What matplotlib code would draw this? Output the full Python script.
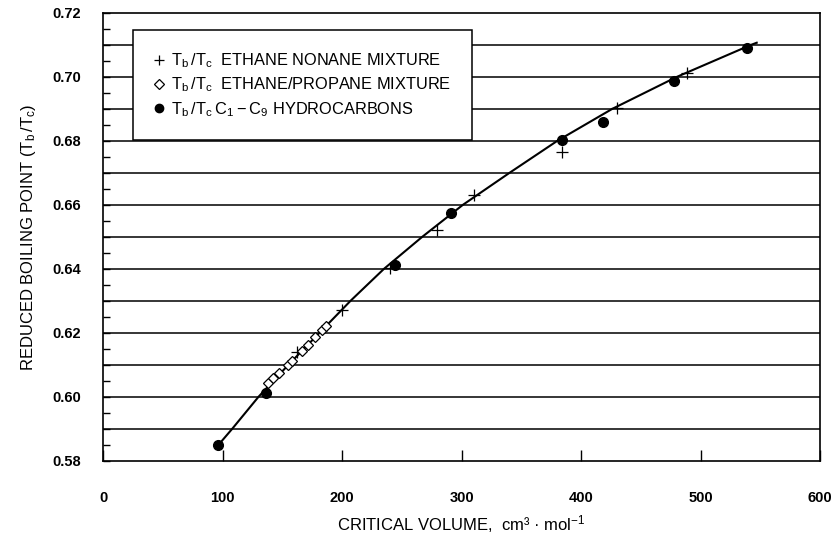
import matplotlib
matplotlib.use("Agg")
import matplotlib.pyplot as plt
from matplotlib.lines import Line2D
from matplotlib.ticker import MultipleLocator

plt.rcParams['font.family'] = ['Liberation Sans', 'DejaVu Sans']

# Ethane / nonane mixture, Tb/Tc
nonane_vc = [162, 200, 240, 279, 310, 384, 430, 489]
nonane_tr = [0.6141, 0.6271, 0.6402, 0.6521, 0.6631, 0.6766, 0.6904, 0.7013]

# Ethane / propane mixture, Tb/Tc
propane_vc = [138.3, 142.3, 147.0, 154.3, 157.6, 166.5, 171.5, 177.2, 182.8, 186.4]
propane_tr = [0.6042, 0.6058, 0.6073, 0.6099, 0.6112, 0.6144, 0.6162, 0.6186, 0.6209, 0.6221]

# C1 - C9 hydrocarbons, Tb/Tc
hc_vc = [96, 136, 244, 291, 384, 418, 478, 539]
hc_tr = [0.5849, 0.6011, 0.6412, 0.6574, 0.6803, 0.6858, 0.6987, 0.7091]

# Correlation curve
curve_vc = [97, 108, 130, 155, 181, 207, 235, 267, 301, 340, 380, 426, 480, 542, 547]
curve_tr = [0.5852, 0.59, 0.60, 0.61, 0.62, 0.63, 0.64, 0.65, 0.66, 0.67, 0.68, 0.69, 0.70, 0.71, 0.7107]

x_ticks = [0, 100, 200, 300, 400, 500, 600]
y_ticks = [0.58, 0.60, 0.62, 0.64, 0.66, 0.68, 0.70, 0.72]

fig = plt.figure(figsize=(8.39, 5.39), dpi=100)
ax = fig.add_axes([0.1231, 0.1453, 0.8543, 0.8306])

# horizontal rules every 0.01
for y in [0.59 + 0.01 * i for i in range(13)]:
    ax.axhline(y, color='black', lw=1.1, zorder=1)

ax.plot(curve_vc, curve_tr, color='black', lw=1.5, zorder=3)
ax.plot(nonane_vc, nonane_tr, ls='none', marker='+', ms=8, mew=0.9, color='black', zorder=4)
ax.plot(propane_vc, propane_tr, ls='none', marker='D', ms=5.5, mew=0.9,
        mfc='white', mec='black', zorder=4)
ax.plot(hc_vc, hc_tr, ls='none', marker='o', ms=7, color='black', zorder=5)

ax.set_xlim(0, 600)
ax.set_ylim(0.58, 0.72)
ax.set_xticks(x_ticks)
ax.set_yticks(y_ticks)
ax.set_yticklabels([f"{v:.2f}" for v in y_ticks])
ax.yaxis.set_minor_locator(MultipleLocator(0.005))
ax.tick_params(axis='x', which='major', direction='in', length=8, width=1,
               pad=22, labelsize=10.5)
ax.tick_params(axis='y', which='major', direction='in', length=5, width=1,
               pad=16, labelsize=10.5)
ax.tick_params(axis='y', which='minor', direction='in', length=5, width=1)
for lab in ax.get_xticklabels() + ax.get_yticklabels():
    lab.set_fontweight('bold')
for s in ax.spines.values():
    s.set_linewidth(1.2)
    s.set_color('black')

ax.set_ylabel(r"REDUCED BOILING POINT ($\mathregular{T_b\,/T_c}$)", fontsize=12, labelpad=10)
ax.set_xlabel(r"CRITICAL VOLUME,  cm³ · mol$\mathregular{^{-1}}$", fontsize=12, labelpad=6)

handles = [
    Line2D([], [], ls='none', marker='+', ms=7, mew=0.9, color='black'),
    Line2D([], [], ls='none', marker='D', ms=5, mew=0.9, mfc='white', mec='black'),
    Line2D([], [], ls='none', marker='o', ms=6, color='black'),
]
labels = [
    r"$\mathregular{T_b\,/T_c}$  ETHANE NONANE MIXTURE",
    r"$\mathregular{T_b\,/T_c}$  ETHANE/PROPANE MIXTURE",
    r"$\mathregular{T_b\,/T_c\,C_1 - C_9}$ HYDROCARBONS",
]
leg = ax.legend(handles, labels, loc='upper left', bbox_to_anchor=(0.0414, 0.962),
                borderaxespad=0,
                frameon=True, fancybox=False, edgecolor='black', framealpha=1,
                fontsize=11.8, handlelength=0.6, handletextpad=0.4,
                labelspacing=0.35, borderpad=1.3)
leg.get_frame().set_linewidth(1.1)
leg.set_zorder(10)

fig.savefig("out.png", dpi=100)
